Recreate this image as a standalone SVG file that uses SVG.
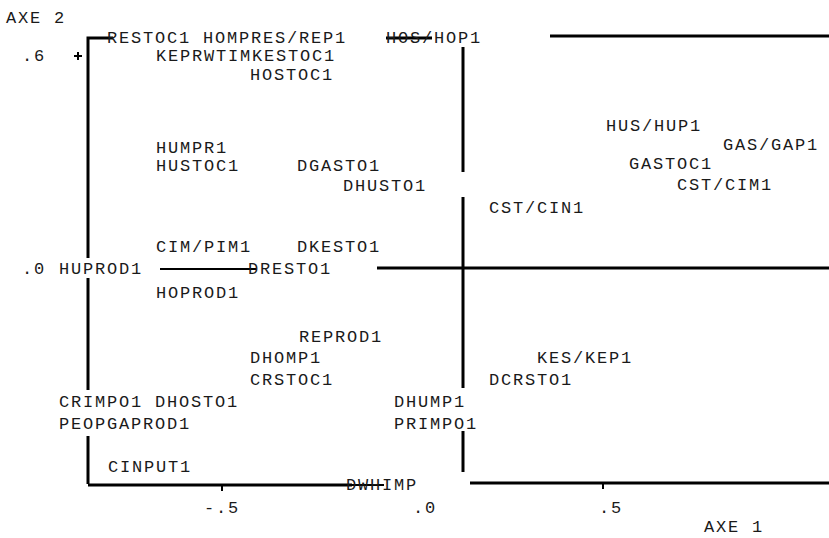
<svg xmlns="http://www.w3.org/2000/svg" width="829" height="538" viewBox="0 0 829 538">
<style>
text{font-family:"Liberation Mono","DejaVu Sans Mono",monospace;font-size:17px;letter-spacing:1.8px;fill:#1a1a1a}
.ax{stroke:#000;stroke-width:3;fill:none}
.axt{stroke:#000;stroke-width:2;fill:none}
</style>
<rect width="829" height="538" fill="#fff"/>
<g id="connectors">
<path class="ax" d="M88 484V436M88 390V278M88 258V38H113"/>
<path class="ax" d="M386 38H432M550 36H829"/>
<path class="ax" d="M463 47V172M463 197V388M463 431V472"/>
<path class="axt" d="M160 269H256"/>
<path class="ax" d="M377 268H829"/>
<path class="ax" d="M88 485H352"/>
<path class="axt" d="M352 485H384"/>
<path class="ax" d="M470 483H829"/>
<path class="axt" d="M222 485V491M603 483V489M74 56H82M78 52V60"/>
</g>
<g id="axis-labels">
<text id="axe2" x="6" y="23">AXE 2</text>
<text id="y06" x="22" y="61">.6</text>
<text id="y00" x="22" y="274">.0</text>
<text id="xm05" x="204" y="513">-.5</text>
<text id="x00" x="413" y="513">.0</text>
<text id="x05" x="599" y="513">.5</text>
<text id="axe1" x="704" y="532">AXE 1</text>
</g>
<g id="nodes">
<text id="n1" x="107" y="43">RESTOC1 HOMPRES/REP1</text>
<text id="n2" x="386" y="43">HOS/HOP1</text>
<text id="n3" x="156" y="61">KEPRWTIMKESTOC1</text>
<text id="n4" x="250" y="80">HOSTOC1</text>
<text id="n5" x="606" y="131">HUS/HUP1</text>
<text id="n6" x="156" y="153">HUMPR1</text>
<text id="n7" x="723" y="150">GAS/GAP1</text>
<text id="n8" x="156" y="171">HUSTOC1</text>
<text id="n9" x="297" y="171">DGASTO1</text>
<text id="n10" x="629" y="169">GASTOC1</text>
<text id="n11" x="343" y="191">DHUSTO1</text>
<text id="n12" x="677" y="190">CST/CIM1</text>
<text id="n13" x="489" y="213">CST/CIN1</text>
<text id="n14" x="156" y="252">CIM/PIM1</text>
<text id="n15" x="297" y="252">DKESTO1</text>
<text id="n16" x="59" y="274">HUPROD1</text>
<text id="n17" x="248" y="274">DRESTO1</text>
<text id="n18" x="156" y="298">HOPROD1</text>
<text id="n19" x="299" y="342">REPROD1</text>
<text id="n20" x="250" y="363">DHOMP1</text>
<text id="n21" x="537" y="363">KES/KEP1</text>
<text id="n22" x="250" y="385">CRSTOC1</text>
<text id="n23" x="489" y="385">DCRSTO1</text>
<text id="n24" x="59" y="407">CRIMPO1 DHOSTO1</text>
<text id="n25" x="394" y="407">DHUMP1</text>
<text id="n26" x="59" y="429">PEOPGAPROD1</text>
<text id="n27" x="394" y="429">PRIMPO1</text>
<text id="n28" x="108" y="472">CINPUT1</text>
<text id="n29" x="346" y="490">DWHIMP</text>
</g>
</svg>
